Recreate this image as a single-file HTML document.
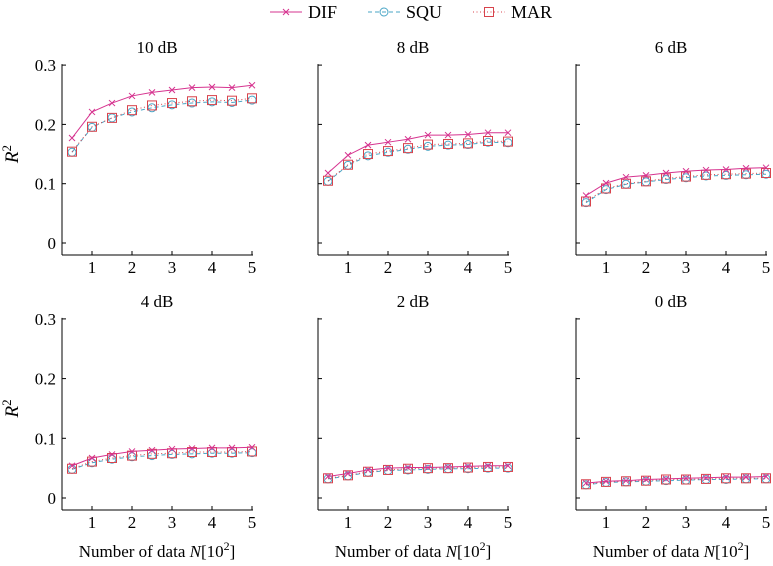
<!DOCTYPE html>
<html><head><meta charset="utf-8"><style>
body{margin:0;background:#fff}
svg{display:block;font-family:"Liberation Serif",serif}
</style></head><body>
<svg id="c" width="773" height="566"></svg>
<script>
const xs=[0.5,1,1.5,2,2.5,3,3.5,4,4.5,5];
const titles=["10 dB","8 dB","6 dB","4 dB","2 dB","0 dB"];
const xTicks=[1,2,3,4,5];
const yTicks=[0,0.1,0.2,0.3];
const dif=[[.177,.221,.236,.248,.254,.258,.262,.263,.262,.266],[.118,.148,.165,.170,.175,.182,.182,.183,.186,.186],[.080,.101,.111,.114,.118,.121,.123,.124,.126,.127],[.054,.067,.073,.078,.080,.082,.083,.084,.084,.085],[.036,.041,.047,.050,.051,.051,.052,.053,.054,.054],[.025,.028,.029,.031,.032,.033,.034,.035,.035,.036]];
const squ=[[.153,.195,.211,.221,.228,.233,.236,.238,.237,.241],[.104,.131,.147,.153,.158,.163,.165,.166,.170,.169],[.068,.090,.099,.103,.107,.110,.113,.114,.115,.116],[.048,.059,.065,.069,.071,.073,.074,.075,.075,.076],[.032,.037,.043,.046,.047,.048,.049,.049,.050,.050],[.022,.026,.027,.028,.029,.030,.031,.031,.032,.032]];
const mar=[[.154,.196,.211,.224,.232,.236,.239,.241,.240,.244],[.105,.132,.150,.155,.160,.166,.167,.168,.172,.171],[.070,.092,.100,.104,.109,.112,.115,.116,.117,.118],[.049,.061,.067,.071,.074,.075,.077,.077,.077,.078],[.033,.038,.044,.047,.049,.050,.050,.051,.052,.052],[.023,.027,.028,.029,.031,.031,.032,.033,.033,.033]];
const svg=document.getElementById('c');const NS="http://www.w3.org/2000/svg";
function el(t,a,p){const e=document.createElementNS(NS,t);for(const k in a)e.setAttribute(k,a[k]);(p||svg).appendChild(e);return e;}
const axL=[62,318,576], rowZero=[243,498], rowScale=[593,597], rowBot=[255,510];
const C={d:"#d6338f",s:"#4aa6c6",m:"#d8434c"};
function marker(g,k,x,y){
 if(k==='d'){el('path',{d:`M${x-3},${y-3}L${x+3},${y+3}M${x-3},${y+3}L${x+3},${y-3}`,stroke:C.d,'stroke-width':1},g);}
 else if(k==='s'){el('circle',{cx:x,cy:y,r:4,fill:'none',stroke:C.s,'stroke-width':1},g);}
 else el('rect',{x:x-4.5,y:y-4.5,width:9,height:9,fill:'none',stroke:C.m,'stroke-width':1},g);
}
for(let p=0;p<6;p++){
 const r=Math.floor(p/3),c=p%3,L=axL[c],Z=rowZero[r],S=rowScale[r],B=rowBot[r];
 const X=v=>L+10+(v-0.5)*40, Y=v=>Z-v*S;
 const g=el('g',{});
 el('line',{x1:L,y1:Y(0.3)-1,x2:L,y2:B,stroke:'#000','stroke-width':1},g);
 el('line',{x1:L,y1:B,x2:X(5)+1,y2:B,stroke:'#000','stroke-width':1},g);
 xTicks.forEach(t=>{el('line',{x1:X(t),y1:B,x2:X(t),y2:B-4,stroke:'#000'},g);
  const tx=el('text',{x:X(t),y:B+18,'text-anchor':'middle','font-size':17},g);tx.textContent=t;});
 yTicks.forEach(t=>{el('line',{x1:L,y1:Y(t),x2:L+4,y2:Y(t),stroke:'#000'},g);
  if(c===0){const tx=el('text',{x:L-6,y:Y(t)+6,'text-anchor':'end','font-size':17},g);tx.textContent=t;}});
 const tt=el('text',{x:L+95,y:Y(0.3)-12,'text-anchor':'middle','font-size':17},g);tt.textContent=titles[p];
 
 if(c===0){const yl=el('text',{x:0,y:0,'text-anchor':'middle','font-size':19,'font-style':'italic',transform:`translate(${L-44},${Y(0.15)}) rotate(-90)`},g);
  yl.innerHTML='R<tspan dy="-7" font-size="13" font-style="normal">2</tspan>';
  }
 if(r===1){const xl=el('text',{x:L+95,y:557,'text-anchor':'middle','font-size':17},g);
  xl.innerHTML='Number of data <tspan font-style="italic">N</tspan>[10<tspan dy="-7" font-size="12">2</tspan><tspan dy="7">]</tspan>';
  }
 [['s',squ[p],'4,3'],['m',mar[p],'1,2.5'],['d',dif[p],null]].forEach(([k,vals,da])=>{
  const pts=vals.map((v,i)=>X(xs[i])+','+Y(v)).join(' ');
  const a={points:pts,fill:'none',stroke:C[k],'stroke-width':1};if(da)a['stroke-dasharray']=da;
  const pl=el('polyline',a,g);
  vals.forEach((v,i)=>marker(g,k,X(xs[i]),Y(v)));
 });
}
const lg=el('g',{});
[['d',270,'DIF',null],['s',368,'SQU','4,3'],['m',473,'MAR','1,2.5']].forEach(([k,x,t,da])=>{
 const a={x1:x,y1:12,x2:x+32,y2:12,stroke:C[k],'stroke-width':1};if(da)a['stroke-dasharray']=da;
 el('line',a,lg);marker(lg,k,x+16,12);
 const tx=el('text',{x:x+38,y:18,'font-size':18},lg);tx.textContent=t;
 
});
</script>
</body></html>
